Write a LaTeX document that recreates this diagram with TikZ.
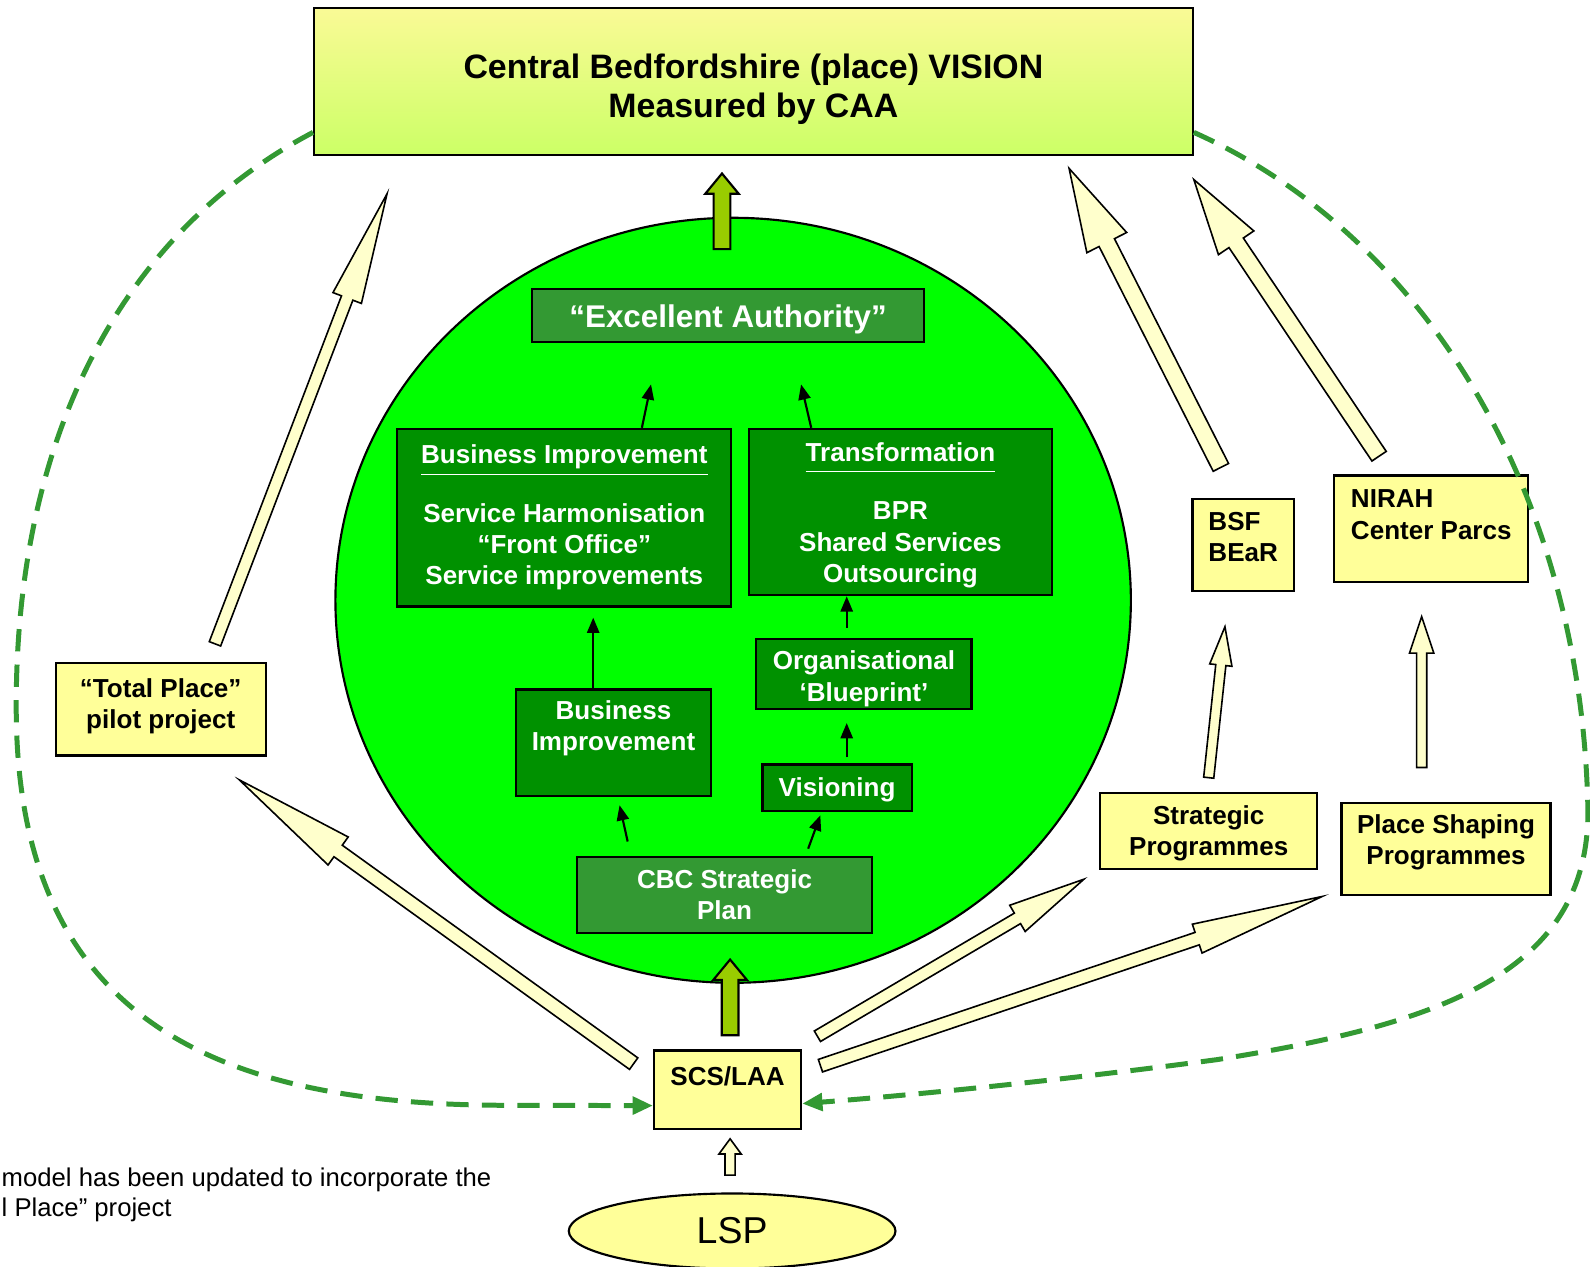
\documentclass[tikz,border=0pt]{standalone}
\usepackage{fontspec}
\setmainfont{Liberation Sans}
\usetikzlibrary{calc,shapes.geometric,arrows.meta}
\definecolor{visiontop}{RGB}{250,250,150}
\definecolor{visionbottom}{RGB}{204,255,102}
\definecolor{circlegreen}{RGB}{0,255,0}
\definecolor{darkgreen}{RGB}{0,145,0}
\definecolor{midgreen}{RGB}{51,153,51}
\definecolor{paleyellow}{RGB}{255,255,153}
\definecolor{cream}{RGB}{255,255,204}
\definecolor{arrowolive}{RGB}{153,204,0}
\definecolor{dashgreen}{RGB}{51,153,51}
\newcommand{\Lift}[1]{\rule[-#1]{0pt}{#1}}
\newcommand{\FatArrow}[6][]{%
  \coordinate (fat-base) at ($(#3)!#6!(#2)$);
  \draw[HollowArrow,#1] ($(#2)!#4!90:(#3)$) -- ($(fat-base)!#4!90:(#3)$) -- ($(fat-base)!#5!90:(#3)$) -- (#3)
    -- ($(fat-base)!#5!-90:(#3)$) -- ($(fat-base)!#4!-90:(#3)$) -- ($(#2)!#4!-90:(#3)$) -- cycle;}

\begin{document}
\begin{tikzpicture}[x=0.01cm, y=-0.01cm]
    \useasboundingbox (0,0) rectangle (1568,1249);
    \tikzset{YellowBox/.style={rectangle, draw=black, fill=paleyellow, line width=0.6pt, inner sep=0pt, align=center, font=\fontsize{7.3}{8.8}\selectfont\bfseries}}
    \tikzset{GreenBox/.style={YellowBox, fill=darkgreen, text=white}}
    \tikzset{MidBox/.style={GreenBox, fill=midgreen}}
    \tikzset{Connection/.style={-{Triangle[length=0.15cm,width=0.12cm]}, line width=0.6pt}}
    \tikzset{HollowArrow/.style={draw=black, fill=cream, line width=0.45pt}}
    \tikzset{OliveArrow/.style={fill=arrowolive, line width=0.6pt}}
    \tikzset{Loop/.style={dashgreen, line width=1.4pt, dash pattern=on 0.22cm off 0.13cm, -{Triangle[length=0.2cm,width=0.17cm]}}}

    \node[ellipse, draw=black, fill=circlegreen, line width=0.6pt, minimum width=7.84cm, minimum height=7.54cm, inner sep=0pt] (circ-main) at (723,592) {};
    \node[YellowBox, minimum width=8.66cm, minimum height=1.45cm, top color=visiontop, bottom color=visionbottom, font=\fontsize{9.5}{10.9}\selectfont\bfseries] (box-vision) at (743,80.5) {\rule{0pt}{11pt}Central Bedfordshire (place) VISION\\Measured by CAA};
    \node[MidBox, minimum width=3.86cm, minimum height=0.52cm, font=\fontsize{8.8}{10.5}\selectfont\bfseries] (box-excellent) at (718,311) {\rule{0pt}{8.5pt}“Excellent Authority”};
    \node[GreenBox, minimum width=3.29cm, minimum height=1.75cm] (box-bi) at (556.5,510.5) {\underline{Business Improvement}\\[6.5pt]Service Harmonisation\\“Front Office”\\Service improvements};
    \node[GreenBox, minimum width=2.98cm, minimum height=1.64cm] (box-trans) at (888,505) {\rule{0pt}{7pt}\underline{\smash{Transformation}\vphantom{p}}\\[7.7pt]BPR\\Shared Services\\Outsourcing};
    \node[GreenBox, minimum width=1.92cm, minimum height=1.05cm] (box-bi-small) at (605,732.5) {Business\\Improvement\Lift{9.7pt}};
    \node[GreenBox, minimum width=2.12cm, minimum height=0.69cm] (box-org) at (852,664.5) {\rule{0pt}{8.1pt}Organisational\\‘Blueprint’};
    \node[GreenBox, minimum width=1.47cm, minimum height=0.46cm] (box-vis) at (825.5,777) {\rule{0pt}{6.5pt}Visioning};
    \node[MidBox, minimum width=2.91cm, minimum height=0.75cm] (box-cbc) at (714.5,882.5) {CBC Strategic\\Plan};
    \node[YellowBox, minimum width=1.45cm, minimum height=0.77cm] (box-scs) at (717.5,1074.5) {SCS/LAA\Lift{7.4pt}};
    \node[ellipse, draw=black, fill=paleyellow, line width=0.6pt, minimum width=3.22cm, minimum height=0.74cm, inner sep=0pt, font=\fontsize{10.5}{12}\selectfont] (ell-lsp) at (722,1214) {LSP};
    \node[YellowBox, minimum width=2.07cm, minimum height=0.91cm] (box-total) at (158.5,699.5) {“Total Place”\\pilot project\Lift{3.2pt}};
    \node[YellowBox, align=left, minimum width=1.00cm, minimum height=0.91cm] (box-bsf) at (1226,537.5) {BSF\\BEaR\Lift{4.6pt}};
    \node[YellowBox, align=left, minimum width=1.91cm, minimum height=1.05cm] (box-nirah) at (1411.5,521.5) {NIRAH\\Center Parcs\Lift{8pt}};
    \node[YellowBox, minimum width=2.14cm, minimum height=0.75cm] (box-strat) at (1192,819.5) {\rule{0pt}{6.5pt}Strategic\\Programmes};
    \node[YellowBox, minimum width=2.06cm, minimum height=0.91cm] (box-place) at (1426,837.5) {Place Shaping\\Programmes\Lift{5.5pt}};
    \node[anchor=west, align=left, inner sep=0pt, font=\fontsize{7.2}{8.5}\selectfont] (note) at (1,1178) {model has been updated to incorporate the\\l Place” project};

    % dashed loop back to SCS/LAA
    \coordinate (loop-l-start) at ($(box-vision.south west)!0.16!(box-vision.north west)$);
    \coordinate (loop-l-end) at ($(box-scs.south west)!0.3!(box-scs.north west)$);
    \coordinate (loop-r-start) at ($(box-vision.south east)!0.16!(box-vision.north east)$);
    \coordinate (loop-r-end) at ($(box-scs.south east)!0.325!(box-scs.north east)$);
    \draw[Loop] (loop-l-start) .. controls (120,230) and (15,430) .. (16,700) .. controls (17,1010) and (220,1090) .. (500,1090) -- (loop-l-end);
    \draw[Loop] (loop-r-start) .. controls (1400,230) and (1560,480) .. (1566,800) .. controls (1566,960) and (1420,1010) .. (1200,1045) .. controls (1050,1065) and (900,1080) .. (loop-r-end);

    % small arrows in the circle
    \draw[Connection] ($(box-bi.north)+(76.5,0)$) -- ($(box-excellent.south)+(-76,41)$);
    \draw[Connection] ($(box-trans.north)+(-88,0)$) -- ($(box-excellent.south)+(72,41)$);
    \draw[Connection] ($(box-bi-small.north)+(-20,0)$) -- ($(box-bi.south)+(28.5,10)$);
    \draw[Connection] ($(box-org.north)+(-17,-10)$) -- ($(box-trans.south)+(-53,0)$);
    \draw[Connection] ($(box-vis.north)+(9.5,-6)$) -- ($(box-org.south)+(-17,13)$);
    \draw[Connection] ($(box-cbc.north)+(-95.5,-14)$) -- ($(box-bi-small.south)+(6,8)$);
    \draw[Connection] ($(box-cbc.north)+(82.5,-7)$) -- ($(box-vis.south)+(-16.5,3)$);

    % block arrows
    \coordinate (tp-tail) at ($(box-total.north)+(53.5,-18)$);
    \coordinate (tp-tip) at ($(box-vision.south west)+(73,37)$);
    \coordinate (scs-tp-tail) at ($(box-scs.north west)+(-19,14)$);
    \coordinate (scs-tp-tip) at ($(box-total.south)+(77.5,23)$);
    \coordinate (bsf-tail) at ($(box-bsf.north)+(-22,-30)$);
    \coordinate (bsf-tip) at ($(box-vision.south east)+(-123,12)$);
    \coordinate (nirah-tail) at ($(box-nirah.north)+(-51.5,-18)$);
    \coordinate (nirah-tip) at ($(box-vision.south east)+(0,23)$);
    \coordinate (strat-tail) at ($(box-strat.north)+(0,-14)$);
    \coordinate (strat-tip) at ($(box-bsf.south)+(-18,34)$);
    \coordinate (place-tail) at ($(box-place.north)+(-24,-34)$);
    \coordinate (place-tip) at ($(box-nirah.south)+(-9.5,33)$);
    \coordinate (scs-strat-tail) at ($(box-scs.north east)+(15,-13)$);
    \coordinate (scs-strat-tip) at ($(box-strat.south west)+(-15,9)$);
    \coordinate (scs-place-tail) at ($(box-scs.north east)+(18,16)$);
    \coordinate (scs-place-tip) at ($(box-place.south west)+(-18,0)$);
    \coordinate (up-tail) at ($(circ-main.north)+(-11,32)$);
    \coordinate (up-tip) at ($(box-vision.south)+(-31,17)$);
    \coordinate (in-tail) at ($(box-scs.north)+(2.5,-14)$);
    \coordinate (in-tip) at ($(circ-main.south)+(-3,-24)$);
    \coordinate (lsp-tail) at ($(ell-lsp.north)+(-2,-17)$);
    \coordinate (lsp-tip) at ($(box-scs.south)+(2.5,9)$);

    \FatArrow{tp-tail}{tp-tip}{0.06cm}{0.15cm}{1.1cm}
    \FatArrow{scs-tp-tail}{scs-tp-tip}{0.07cm}{0.17cm}{1.2cm}
    \FatArrow{bsf-tail}{bsf-tip}{0.085cm}{0.22cm}{0.82cm}
    \FatArrow{nirah-tail}{nirah-tip}{0.085cm}{0.21cm}{0.75cm}
    \FatArrow{strat-tail}{strat-tip}{0.05cm}{0.11cm}{0.38cm}
    \FatArrow{place-tail}{place-tip}{0.05cm}{0.12cm}{0.36cm}
    \FatArrow{scs-strat-tail}{scs-strat-tip}{0.06cm}{0.15cm}{0.76cm}
    \FatArrow{scs-place-tail}{scs-place-tip}{0.065cm}{0.15cm}{1.3cm}
    \FatArrow[OliveArrow]{up-tail}{up-tip}{0.083cm}{0.165cm}{0.2cm} % to vision
    \FatArrow[OliveArrow]{in-tail}{in-tip}{0.083cm}{0.165cm}{0.2cm} % into circle
    \FatArrow{lsp-tail}{lsp-tip}{0.05cm}{0.11cm}{0.15cm} % LSP
\end{tikzpicture}
\end{document}
